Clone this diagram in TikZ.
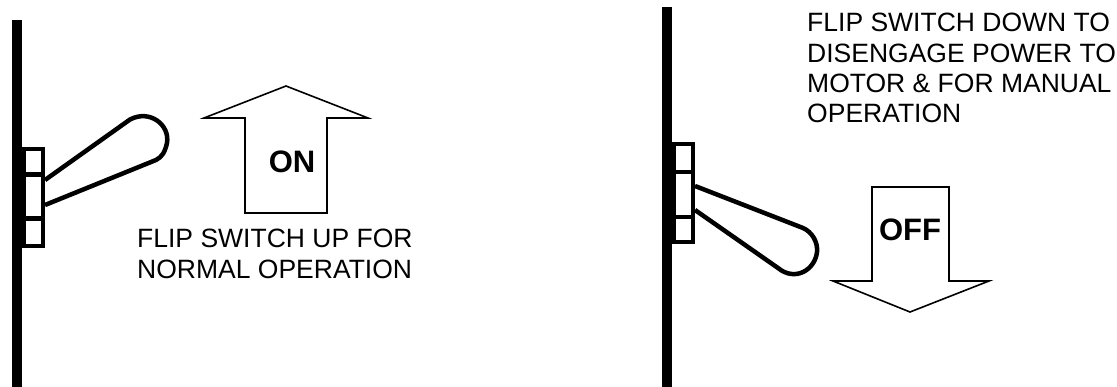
\documentclass[tikz,border=0pt]{standalone}
\usepackage{fontspec}
\setmainfont{Liberation Sans}
\tikzset{
  bar/.style={fill=black,draw=none},
  plate/.style={draw=black,line width=4.5pt,fill=white},
  handle/.style={draw=black,line width=4.5pt,line join=round},
  bigarrow/.style={draw=black,line width=1.6pt,line join=miter,fill=white},
  caption/.style={align=left,anchor=north west,inner sep=0pt},
  tag/.style={inner sep=0pt,font=\fontsize{31pt}{34pt}\selectfont\bfseries}
}
\begin{document}
\begin{tikzpicture}[x=1pt,y=-1pt]
\useasboundingbox (0,0) rectangle (1117,387);
% left switch
\fill[bar] (12,20) rectangle (22,387);
\fill[bar] (22,147) rectangle (26,248);
\draw[plate] (24,149) rectangle (43,246);
\draw[plate] (24,174.5) -- (43,174.5) (24,218.5) -- (43,218.5);
\draw[handle] (45,180) -- (130,119.5) .. controls (150,109) and (170,125) .. (167,143) .. controls (165,152) and (162,157) .. (156,160) -- (45,205);
\draw[bigarrow] (286,86) -- (368,118) -- (327,118) -- (327,213) -- (245,213) -- (245,118) -- (204,118) -- cycle;
\node[tag] (on) at (292,162) {ON};
\node[caption,font=\fontsize{26.5pt}{31pt}\selectfont] (cap1) at (137,228.5) {FLIP SWITCH UP FOR\\NORMAL OPERATION};
% right switch
\fill[bar] (662,7) rectangle (672,387);
\fill[bar] (672,142) rectangle (676,244);
\draw[plate] (674,144) rectangle (693,242);
\draw[plate] (674,172) -- (693,172) (674,217) -- (693,217);
\draw[handle] (695,186) -- (803,228) .. controls (812,232) and (818,242) .. (817,252) .. controls (815,270) and (795,282) .. (778,268) -- (695,210);
\draw[bigarrow] (872,187) -- (949,187) -- (949,281) -- (989,281) -- (910,312) -- (833,281) -- (872,281) -- cycle;
\node[tag] (off) at (910,230) {OFF};
\node[caption,font=\fontsize{26.5pt}{30.4pt}\selectfont] (cap2) at (807,13) {FLIP SWITCH DOWN TO\\DISENGAGE POWER TO\\MOTOR \& FOR MANUAL\\OPERATION};
\end{tikzpicture}
\end{document}
